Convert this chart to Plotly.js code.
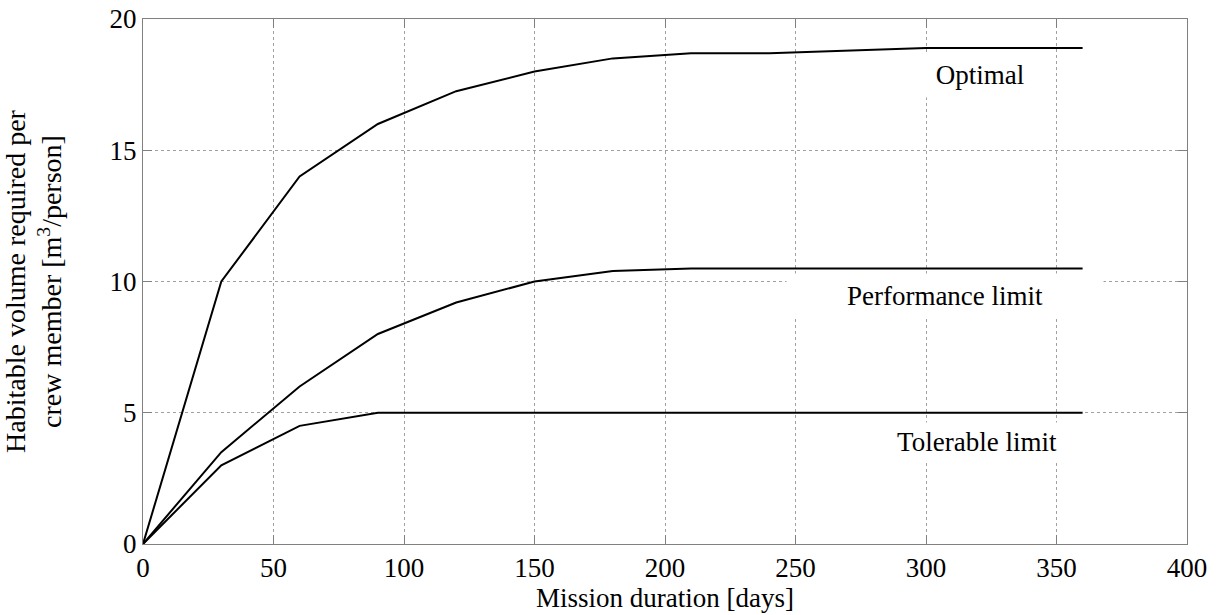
<!DOCTYPE html>
<html>
<head>
<meta charset="utf-8">
<script src="https://cdn.plot.ly/plotly-3.0.1.min.js"></script>
<style>html,body{margin:0;padding:0;background:#fff;}#chart{width:1218px;height:615px;}</style>
</head>
<body>
<div id="chart"></div>
<script>
// Data
const optimalDays = [0, 30, 60, 90, 120, 150, 180, 210, 240, 300, 360];
const optimalVolume = [0, 10, 14, 16, 17.25, 18, 18.5, 18.7, 18.7, 18.9, 18.9];
const performanceDays = [0, 30, 60, 90, 120, 150, 180, 210, 360];
const performanceVolume = [0, 3.5, 6, 8, 9.2, 10, 10.4, 10.5, 10.5];
const tolerableDays = [0, 30, 60, 90, 360];
const tolerableVolume = [0, 3, 4.5, 5, 5];
const xTicks = [0, 50, 100, 150, 200, 250, 300, 350, 400];
const yTicks = [0, 5, 10, 15, 20];
const labelNames = ["Optimal", "Performance limit", "Tolerable limit"];
const labelX = [320.5, 307.3, 319.5];
const labelY = [17.85, 9.45, 3.9];

const FONT = "'Liberation Serif', 'Times New Roman', serif";
const lineStyle = {color: "#000", width: 2};

const traces = [
  {x: optimalDays, y: optimalVolume, mode: "lines", line: lineStyle, name: "Optimal"},
  {x: performanceDays, y: performanceVolume, mode: "lines", line: lineStyle, name: "Performance limit"},
  {x: tolerableDays, y: tolerableVolume, mode: "lines", line: lineStyle, name: "Tolerable limit"}
];

const boxWidths = [110, 308, 190];
const annotations = labelNames.map((t, i) => ({
  x: labelX[i], y: labelY[i], xref: "x", yref: "y",
  text: t, showarrow: false,
  font: {family: FONT, size: 27, color: "#000"},
  bgcolor: "#fff", borderpad: 4, width: boxWidths[i], height: i === 2 ? 30 : 36,
  xanchor: "center", yanchor: "middle"
}));

const axisCommon = {
  showline: true, linecolor: "#808080", linewidth: 1, mirror: "ticks",
  ticks: "inside", ticklen: 9, tickcolor: "#808080", tickwidth: 1,
  showgrid: true, gridcolor: "#a0a0a0", gridwidth: 1, griddash: "dot",
  zeroline: false, tickfont: {family: FONT, size: 27, color: "#000"},
  fixedrange: true
};

const layout = {
  width: 1218, height: 615,
  margin: {l: 143, r: 31, t: 19, b: 71},
  paper_bgcolor: "#fff", plot_bgcolor: "#fff",
  showlegend: false,
  font: {family: FONT, color: "#000"},
  xaxis: Object.assign({}, axisCommon, {
    range: [0, 400], tickvals: xTicks, ticktext: xTicks.map(String),
    title: {text: "Mission duration [days]", font: {family: FONT, size: 27, color: "#000"}, standoff: 0}
  }),
  yaxis: Object.assign({}, axisCommon, {
    range: [0, 20], tickvals: yTicks, ticktext: yTicks.map(String),
    title: {text: "Habitable volume required per<br>crew member [m<sup>3</sup>/person]", font: {family: FONT, size: 28, color: "#000"}, standoff: 42}
  }),
  annotations: annotations
};

Plotly.newPlot("chart", traces, layout, {displayModeBar: false, staticPlot: true});
</script>
</body>
</html>
